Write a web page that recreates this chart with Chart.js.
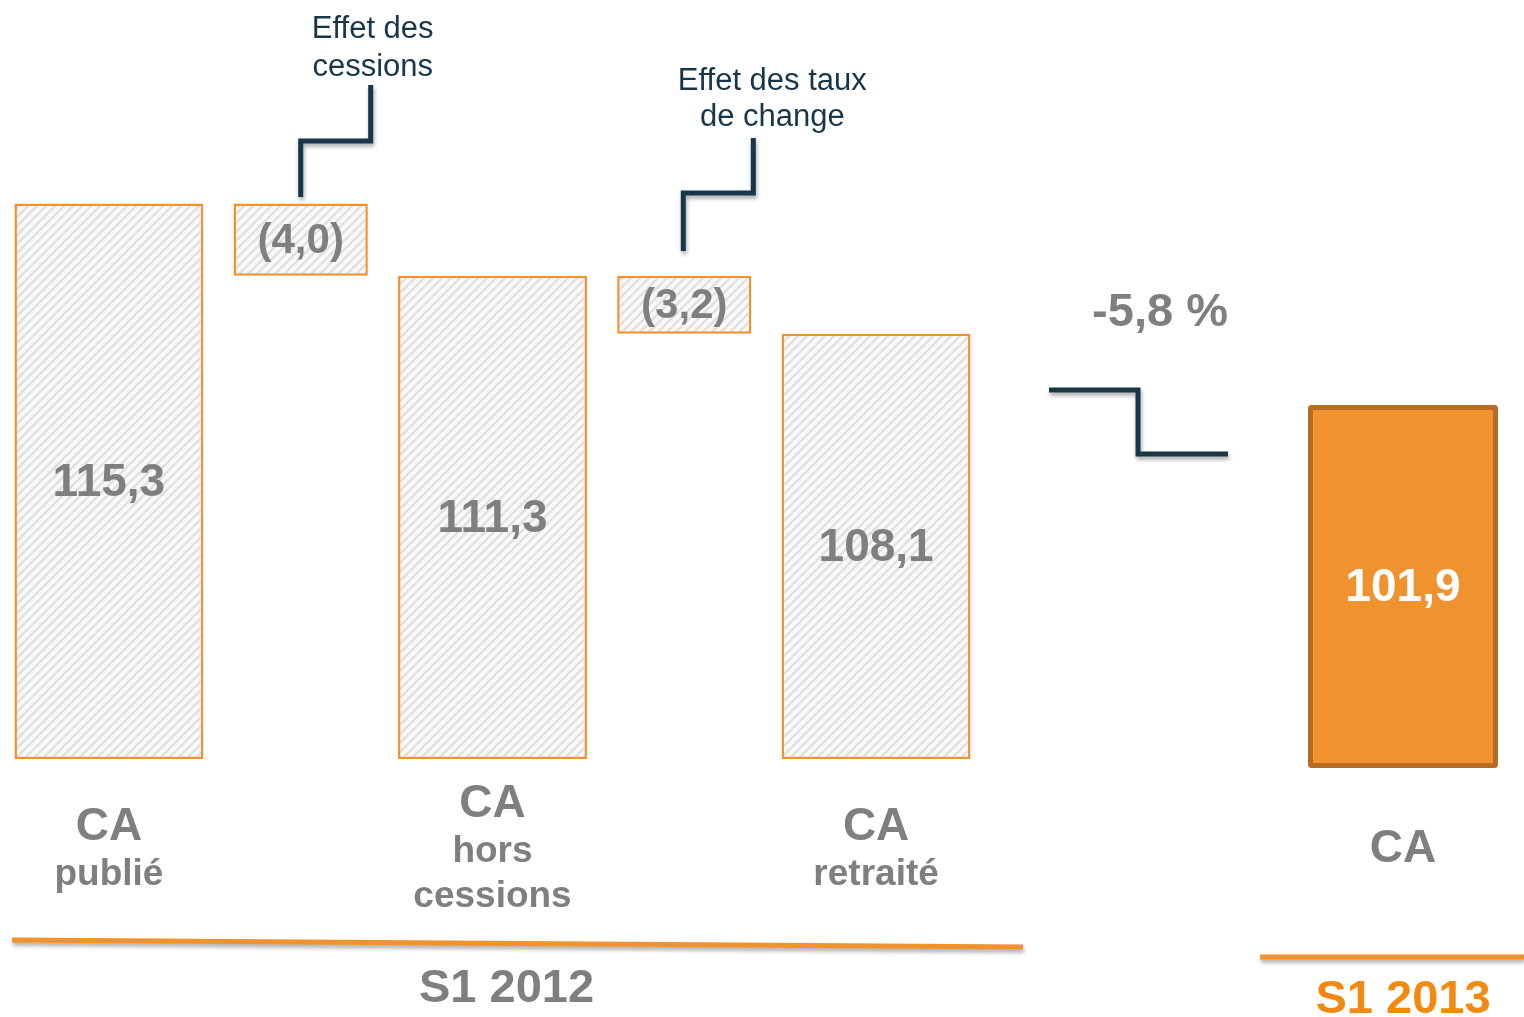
<!DOCTYPE html>
<html>
<head>
<meta charset="utf-8">
<script src="https://cdn.jsdelivr.net/npm/chart.js@4.4.1/dist/chart.umd.min.js"></script>
<style>
  html, body { margin: 0; padding: 0; background: #ffffff; }
  #wrap { position: relative; width: 1524px; height: 1017px; overflow: hidden; }
  #c1 { position: absolute; left: 0; top: 0; }
  #c2 { position: absolute; left: 1030px; top: 0; }
</style>
</head>
<body>
<div id="wrap">
  <canvas id="c1" width="1040" height="1017"></canvas>
  <canvas id="c2" width="494" height="1017"></canvas>
</div>
<script>
// ---------- DATA ----------
const categories2012 = [
  ['CA', 'publié'],
  ['Effet des', 'cessions'],
  ['CA', 'hors', 'cessions'],
  ['Effet des taux', 'de change'],
  ['CA', 'retraité']
];
const totals2012  = [115.3, null, 111.3, null, 108.1];
const effects2012 = [null, -4.0, null, -3.2, null];
const categories2013 = [['CA']];
const totals2013 = [101.9];
const groupLabels = ['S1 2012', 'S1 2013'];
const changeLabel = '-5,8 %';

// ---------- AXIS RANGES (truncated value axes) ----------
const Y2012 = { min: 84.6, max: 126.54 };
const Y2013 = { min: 81.84, max: 124.28 };

// ---------- STYLE ----------
const FONT = '"Liberation Sans", Arial, Helvetica, sans-serif';
const GRAY = '#7f7f7f';
const NAVY = '#17364a';
const ORANGE = '#f0922e';
const ORANGE_TEXT = '#f28a12';

function fmt(v) {
  const s = Math.abs(v).toFixed(1).replace('.', ',');
  return v < 0 ? '(' + s + ')' : s;
}

// floating ranges for effect boxes, derived from previous total + effect
const effectRanges = effects2012.map((e, i) => {
  if (e == null) return null;
  const prev = totals2012[i - 1];
  return [prev + e, prev];
});

function makeHatch(ctx) {
  const t = document.createElement('canvas');
  t.width = 9; t.height = 9;
  const g = t.getContext('2d');
  g.fillStyle = '#f9f9f9';
  g.fillRect(0, 0, 9, 9);
  g.strokeStyle = '#e0e0e0';
  g.lineWidth = 2.4;
  g.beginPath();
  g.moveTo(-2, 11); g.lineTo(11, -2);
  g.moveTo(-2, 2); g.lineTo(2, -2);
  g.moveTo(7, 11); g.lineTo(11, 7);
  g.stroke();
  return ctx.createPattern(t, 'repeat');
}

const callouts = {
  1: { low: -6.4, elbow: -62.4, up: -118.4, dxLow: 0, dxUp: 70, dxText: 72, base: [-165.4, -127.4] },
  3: { low: -24.8, elbow: -82.8, up: -137.8, dxLow: -1, dxUp: 69, dxText: 88, base: [-185.8, -149.8] }
};

function shadowOn(ctx) {
  ctx.shadowColor = 'rgba(0,0,0,0.35)';
  ctx.shadowBlur = 4;
  ctx.shadowOffsetX = 1;
  ctx.shadowOffsetY = 3;
}

const ctx1 = document.getElementById('c1').getContext('2d');
const hatch = makeHatch(ctx1);

const plugin2012 = {
  id: 'deco2012',
  afterDatasetsDraw(chart) {
    const ctx = chart.ctx;
    const area = chart.chartArea;
    const xs = chart.scales.x, ys = chart.scales.y;
    const basePx = ys.getPixelForValue(Y2012.min);
    ctx.save();
    ctx.textAlign = 'center';
    // totals: value labels + category labels
    totals2012.forEach((v, i) => {
      if (v == null) return;
      const x = xs.getPixelForValue(i);
      const top = ys.getPixelForValue(v);
      ctx.fillStyle = GRAY;
      ctx.font = 'bold 46px ' + FONT;
      ctx.textBaseline = 'middle';
      ctx.fillText(fmt(v), x, (top + basePx) / 2 + 2);
      const lines = categories2012[i];
      ctx.textBaseline = 'alphabetic';
      const first = area.bottom + 103 - 22.5 * (lines.length - 1);
      lines.forEach((ln, k) => {
        ctx.font = (k === 0 ? 'bold 46px ' : 'bold 37px ') + FONT;
        ctx.fillText(ln, x, first + 45 * k);
      });
    });
    // effects: value labels + callouts
    effects2012.forEach((e, i) => {
      if (e == null) return;
      const r = effectRanges[i];
      const x = xs.getPixelForValue(i);
      const top = ys.getPixelForValue(Math.max(r[0], r[1]));
      const bot = ys.getPixelForValue(Math.min(r[0], r[1]));
      ctx.fillStyle = GRAY;
      ctx.font = 'bold 42px ' + FONT;
      ctx.textBaseline = 'middle';
      ctx.fillText(fmt(e), x, (top + bot) / 2 + 2);
      const c = callouts[i];
      ctx.save();
      shadowOn(ctx);
      ctx.strokeStyle = NAVY;
      ctx.lineWidth = 5;
      ctx.lineJoin = 'miter';
      ctx.beginPath();
      ctx.moveTo(x + c.dxLow, top + c.low);
      ctx.lineTo(x + c.dxLow, top + c.elbow);
      ctx.lineTo(x + c.dxUp, top + c.elbow);
      ctx.lineTo(x + c.dxUp, top + c.up);
      ctx.stroke();
      ctx.restore();
      ctx.fillStyle = NAVY;
      ctx.font = '31px ' + FONT;
      ctx.textBaseline = 'alphabetic';
      categories2012[i].forEach((ln, k) => {
        ctx.fillText(ln, x + c.dxText, top + c.base[k]);
      });
    });
    // group underline + label
    ctx.save();
    shadowOn(ctx);
    ctx.strokeStyle = ORANGE;
    ctx.lineWidth = 5;
    ctx.beginPath();
    ctx.moveTo(area.left - 1, area.bottom + 181);
    ctx.lineTo(area.right + 51, area.bottom + 188);
    ctx.stroke();
    ctx.restore();
    ctx.fillStyle = GRAY;
    ctx.font = 'bold 47px ' + FONT;
    ctx.textBaseline = 'alphabetic';
    ctx.fillText(groupLabels[0], (area.left + area.right) / 2 + 14, area.bottom + 243);
    ctx.restore();
  }
};

new Chart(ctx1, {
  type: 'bar',
  data: {
    labels: categories2012,
    datasets: [
      {
        data: totals2012,
        base: Y2012.min,
        backgroundColor: hatch,
        borderColor: ORANGE,
        borderWidth: 2.5,
        borderSkipped: false,
        barPercentage: 0.985,
        categoryPercentage: 1,
        grouped: false,
        clip: false
      },
      {
        data: effectRanges,
        backgroundColor: hatch,
        borderColor: ORANGE,
        borderWidth: 2.5,
        borderSkipped: false,
        barPercentage: 0.70,
        categoryPercentage: 1,
        grouped: false,
        clip: false
      }
    ]
  },
  options: {
    responsive: false,
    animation: false,
    devicePixelRatio: 1,
    layout: { padding: { left: 13, right: 68, top: 0, bottom: 258 } },
    plugins: { legend: { display: false }, tooltip: { enabled: false } },
    scales: {
      x: { display: false },
      y: { display: false, min: Y2012.min, max: Y2012.max }
    }
  },
  plugins: [plugin2012]
});

const plugin2013 = {
  id: 'deco2013',
  afterDatasetsDraw(chart) {
    const ctx = chart.ctx;
    const area = chart.chartArea;
    const xs = chart.scales.x, ys = chart.scales.y;
    const basePx = ys.getPixelForValue(Y2013.min);
    const x = xs.getPixelForValue(0);
    const top = ys.getPixelForValue(totals2013[0]);
    const el = chart.getDatasetMeta(0).data[0];
    const left = x - el.width / 2;
    ctx.save();
    ctx.textAlign = 'center';
    ctx.fillStyle = '#ffffff';
    ctx.font = 'bold 46px ' + FONT;
    ctx.textBaseline = 'middle';
    ctx.fillText(fmt(totals2013[0]), x, (top + basePx) / 2 + 2);
    // category label
    ctx.fillStyle = GRAY;
    ctx.textBaseline = 'alphabetic';
    const lines = categories2013[0];
    const first = area.bottom + 94 - 22.5 * (lines.length - 1);
    lines.forEach((ln, k) => {
      ctx.font = (k === 0 ? 'bold 46px ' : 'bold 37px ') + FONT;
      ctx.fillText(ln, x, first + 45 * k);
    });
    // change connector
    ctx.save();
    shadowOn(ctx);
    ctx.strokeStyle = NAVY;
    ctx.lineWidth = 5;
    ctx.lineJoin = 'miter';
    ctx.beginPath();
    ctx.moveTo(left - 259, top - 15);
    ctx.lineTo(left - 170, top - 15);
    ctx.lineTo(left - 170, top + 49);
    ctx.lineTo(left - 80, top + 49);
    ctx.stroke();
    ctx.restore();
    ctx.fillStyle = GRAY;
    ctx.font = 'bold 47px ' + FONT;
    ctx.fillText(changeLabel, left - 148, top - 79);
    // group underline + label
    ctx.save();
    shadowOn(ctx);
    ctx.strokeStyle = ORANGE;
    ctx.lineWidth = 5;
    ctx.beginPath();
    ctx.moveTo(area.left - 22, area.bottom + 189);
    ctx.lineTo(chart.width, area.bottom + 189);
    ctx.stroke();
    ctx.restore();
    ctx.fillStyle = ORANGE_TEXT;
    ctx.font = 'bold 47px ' + FONT;
    ctx.fillText(groupLabels[1], x, area.bottom + 245);
    ctx.restore();
  }
};

new Chart(document.getElementById('c2').getContext('2d'), {
  type: 'bar',
  data: {
    labels: categories2013,
    datasets: [{
      data: totals2013,
      base: Y2013.min,
      backgroundColor: '#f0932f',
      borderColor: '#b86c23',
      borderWidth: 5,
      borderRadius: 3,
      borderSkipped: false,
      barPercentage: 1,
      categoryPercentage: 0.785,
      clip: false
    }]
  },
  options: {
    responsive: false,
    animation: false,
    devicePixelRatio: 1,
    layout: { padding: { left: 252, right: 0, top: 0, bottom: 249 } },
    plugins: { legend: { display: false }, tooltip: { enabled: false } },
    scales: {
      x: { display: false },
      y: { display: false, min: Y2013.min, max: Y2013.max }
    }
  },
  plugins: [plugin2013]
});
</script>
</body>
</html>
